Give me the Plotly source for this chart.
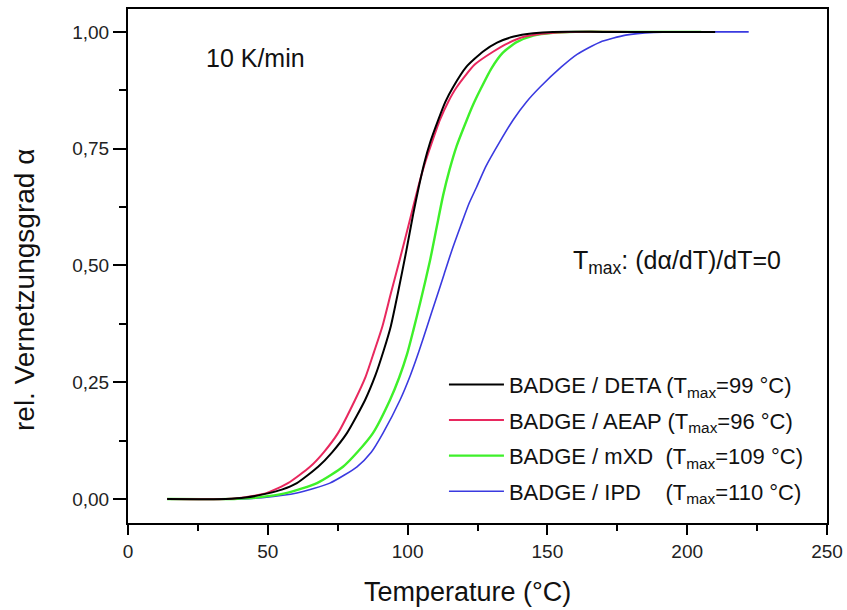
import plotly.graph_objects as go

# Series data (temperature in °C, relative conversion alpha)
deta_T = [14, 35, 42, 50, 55, 60.4, 68, 73, 78.3, 84.8, 88.5, 91.5, 94, 96.5, 99.5, 102, 104, 106, 108, 111, 113.5, 116.3, 121, 127, 132, 138, 145, 152, 170, 190, 210]
deta_a = [0, 0, 0.003, 0.012, 0.02, 0.034, 0.069, 0.1, 0.141, 0.212, 0.265, 0.319, 0.37, 0.44, 0.53, 0.61, 0.668, 0.72, 0.762, 0.812, 0.85, 0.882, 0.925, 0.958, 0.977, 0.99, 0.997, 1.0, 1.0, 1.0, 1.0]

aeap_T = [14, 35, 42, 49.7, 57.2, 65.1, 70, 75.1, 81.2, 85, 88, 91, 94, 97.3, 100.5, 103.8, 106, 108.5, 111.6, 114.5, 117.6, 124, 130.7, 136, 142, 150, 158, 180, 205]
aeap_a = [0, 0, 0.004, 0.013, 0.034, 0.069, 0.1, 0.141, 0.212, 0.262, 0.315, 0.37, 0.44, 0.515, 0.59, 0.668, 0.715, 0.76, 0.812, 0.85, 0.882, 0.93, 0.958, 0.976, 0.99, 0.997, 1.0, 1.0, 1.0]

mxd_T = [14, 38, 46, 56.9, 67.6, 76.9, 82, 87.6, 93.7, 97, 99.8, 102, 104.5, 108, 110.5, 112.7, 115, 117.5, 121.2, 123.5, 125.9, 130, 134, 139, 145, 152, 160, 180, 205]
mxd_a = [0, 0, 0.003, 0.013, 0.034, 0.069, 0.1, 0.141, 0.212, 0.26, 0.31, 0.36, 0.42, 0.51, 0.585, 0.65, 0.705, 0.755, 0.812, 0.845, 0.875, 0.922, 0.955, 0.978, 0.992, 0.998, 1.0, 1.0, 1.0]

ipd_T = [14, 40, 48, 60.4, 72.2, 81.9, 87, 91.2, 97.3, 101, 104, 107, 110, 113, 115.7, 119, 122, 124.7, 128, 133, 137.8, 142.5, 147.4, 155, 160.6, 168.8, 178, 188, 198, 210, 222]
ipd_a = [0, 0, 0.003, 0.013, 0.034, 0.069, 0.1, 0.141, 0.212, 0.265, 0.315, 0.37, 0.425, 0.48, 0.53, 0.585, 0.633, 0.668, 0.712, 0.765, 0.812, 0.85, 0.882, 0.925, 0.952, 0.978, 0.993, 0.999, 1.0, 1.0, 1.0]

names = [
    "BADGE / DETA (T<sub>max</sub>=99 °C)",
    "BADGE / AEAP (T<sub>max</sub>=96 °C)",
    "BADGE / mXD\u00a0\u00a0(T<sub>max</sub>=109 °C)",
    "BADGE / IPD\u00a0\u00a0\u00a0\u00a0(T<sub>max</sub>=110 °C)",
]

x_ticks = [0, 50, 100, 150, 200, 250]
y_ticks = [0, 0.25, 0.5, 0.75, 1.0]

series = [
    (ipd_T, ipd_a, names[3], "#3a3ae0", 1.6, 4),
    (mxd_T, mxd_a, names[2], "#3ef02a", 2.4, 3),
    (aeap_T, aeap_a, names[1], "#e8285e", 2.0, 2),
    (deta_T, deta_a, names[0], "#000000", 2.0, 1),
]

fig = go.Figure()
for xs, ys, nm, col, w, rank in series:
    fig.add_trace(go.Scatter(
        x=xs, y=ys, mode="lines", name=nm,
        line=dict(color=col, width=w, shape="spline", smoothing=0.6),
        legendrank=rank, legendgroup=nm,
    ))

axis_common = dict(
    showline=True, linecolor="black", linewidth=2, mirror=True,
    ticks="outside", tickwidth=2, tickcolor="black",
    showgrid=False, zeroline=False,
    tickfont=dict(size=19, color="#222"),
)

fig.update_xaxes(
    range=[0, 250], tickvals=x_ticks, ticklen=10,
    minor=dict(ticks="outside", ticklen=6, tickwidth=2, tickcolor="black", dtick=25, tick0=0),
    **axis_common,
)
fig.update_yaxes(
    range=[-0.0514, 1.049], tickvals=y_ticks, tickformat=".2f", ticklen=13,
    minor=dict(ticks="outside", ticklen=7, tickwidth=2, tickcolor="black", dtick=0.125, tick0=0),
    **axis_common,
)

# axis titles
fig.add_annotation(x=0.485, y=-0.134, xref="paper", yref="paper", text="Temperature (°C)",
                   showarrow=False, font=dict(size=27, color="#111"),
                   xanchor="center", yanchor="middle")
fig.add_annotation(x=-0.149, y=0.453, xref="paper", yref="paper", text="rel. Vernetzungsgrad α",
                   showarrow=False, textangle=-90, font=dict(size=28, color="#111"),
                   xanchor="center", yanchor="middle")

fig.add_annotation(x=45.5, y=0.944, xref="x", yref="y", text="10 K/min",
                   showarrow=False, font=dict(size=25, color="#111"))
fig.add_annotation(x=196.4, y=0.507, xref="x", yref="y",
                   text="T<sub>max</sub>: (dα/dT)/dT=0",
                   showarrow=False, font=dict(size=25, color="#111"))

fig.update_layout(
    width=847, height=610,
    margin=dict(l=128, r=20, t=9, b=87, autoexpand=False),
    paper_bgcolor="white", plot_bgcolor="white",
    separators=",.",
    font=dict(family="Liberation Sans, Arial, sans-serif", color="#111"),
    legend=dict(
        x=0.452, y=0.31, xanchor="left", yanchor="top",
        bgcolor="rgba(0,0,0,0)", font=dict(size=22, color="#111"),
        itemwidth=55, tracegroupgap=4,
    ),
    showlegend=True,
)

fig.write_html("out.html", config={"displayModeBar": False},
               post_script="document.body.style.margin='0';document.body.style.overflow='hidden';")
